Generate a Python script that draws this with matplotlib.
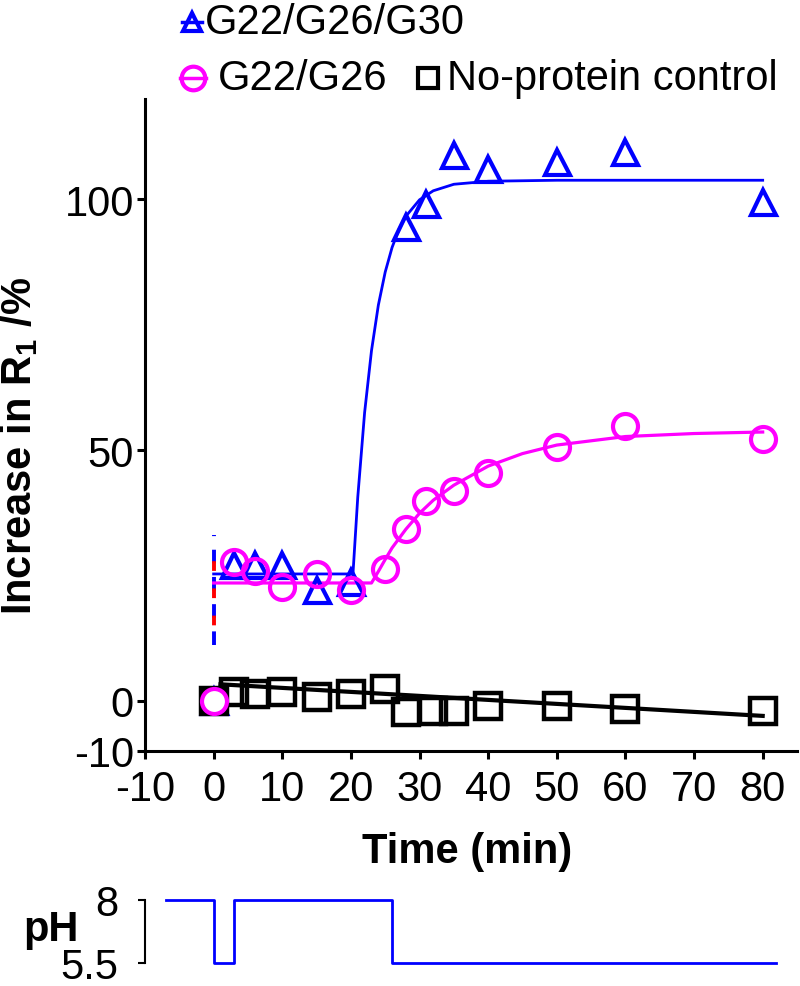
import matplotlib.pyplot as plt
from matplotlib.lines import Line2D

plt.rcParams['font.family'] = ['Liberation Sans', 'DejaVu Sans']
plt.rcParams['mathtext.fontset'] = 'custom'
plt.rcParams['mathtext.rm'] = 'Liberation Sans'
plt.rcParams['mathtext.bf'] = 'Liberation Sans:bold'
plt.rcParams['axes.unicode_minus'] = False

BLUE = '#0000ff'
MAG = '#ff00ff'

# measured points
t_tri = [0, 3, 6, 10, 15, 20, 28, 31, 35, 40, 50, 60, 80]
y_tri = [0, 27.1, 27.1, 27.1, 22.1, 23.7, 94.4, 99, 108.8, 106, 107.4, 109.4, 99.4]

t_circ = [0, 3, 6, 10, 15, 20, 25, 28, 31, 35, 40, 50, 60, 80]
y_circ = [0, 27.7, 25.9, 22.7, 25.3, 22.1, 26.3, 34.3, 39.8, 41.8, 45.4, 50.6, 54.8, 52.2]

t_ctrl = [0, 3, 6, 10, 15, 20, 25, 28, 32, 35, 40, 50, 60, 80]
y_ctrl = [0, 1.8, 1.4, 1.8, 0.8, 1.4, 2.4, -2.2, -2, -2, -1, -1, -1.6, -2]

# fitted curves
fit_t_tri = [0, 20.3, 21, 22, 23, 24, 25, 26, 27, 28, 30, 32, 35, 40, 50, 80]
fit_y_tri = [25.3, 25.3, 40.6, 57.5, 69.8, 78.9, 85.5, 90.4, 94, 96.6, 99.9, 101.7, 103, 103.6, 103.8, 103.8]

fit_t_circ = [0, 23, 24, 25, 26, 28, 30, 32, 35, 40, 45, 50, 60, 70, 80]
fit_y_circ = [23.5, 23.5, 25.8, 28.2, 30.5, 34.2, 37.4, 40.0, 43.0, 46.8, 49.3, 51.0, 52.7, 53.3, 53.6]

fit_t_ctrl = [1, 80]
fit_y_ctrl = [3.3, -3.0]

# pH protocol
ph_t = [-7, 0, 3, 26, 82]
ph_v = [8, 5.5, 8, 5.5, 5.5]

fig = plt.figure(figsize=(8, 9.87), dpi=100)
ax = fig.add_axes([145/800, 235/987, 652/800, 652/987])

# injection marker at t=0
ax.plot([0, 0], [11.2, 33], color=BLUE, lw=2.8, linestyle=(0, (3.5, 3.5)))
ax.plot([0, 0], [12.7, 30], color='red', lw=2.8, linestyle=(4, (2.5, 4.5)))

ax.plot(fit_t_ctrl, fit_y_ctrl, color='black', lw=3)
ax.plot(fit_t_tri, fit_y_tri, color=BLUE, lw=2)
ax.plot(fit_t_circ, fit_y_circ, color=MAG, lw=2.3)

ax.plot(t_ctrl[1:], y_ctrl[1:], 's', ms=19, mfc='none', mec='black', mew=3.2)
ax.plot(t_tri[1:], y_tri[1:], '^', ms=18, mfc='none', mec=BLUE, mew=3)
ax.plot(t_circ[1:], y_circ[1:], 'o', ms=18, mfc='none', mec=MAG, mew=3)
# overlapping points at t=0
ax.plot(t_tri[:1], y_tri[:1], '^', ms=18, mfc='none', mec=BLUE, mew=3)
ax.plot(t_ctrl[:1], y_ctrl[:1], 's', ms=19, mfc='black', mec='black', mew=3.2)
ax.plot(t_circ[:1], y_circ[:1], 'o', ms=18, mfc='white', mec=MAG, mew=3)

ax.set_xlim(-10, 85)
ax.set_ylim(-10, 120)
ax.set_xticks(range(-10, 90, 10))
ax.set_yticks([-10, 0, 50, 100])
for s in ['top', 'right']:
    ax.spines[s].set_visible(False)
for s in ['left', 'bottom']:
    ax.spines[s].set_linewidth(2.2)
ax.tick_params(labelsize=30, width=2.2, length=6)
ax.tick_params(axis='x', pad=7)
ax.tick_params(axis='y', pad=2)

ax.set_xlabel('Time (min)', fontsize=30, fontweight='bold')
ax.xaxis.set_label_coords(0.494, -0.153)
ax.xaxis.label.set_va('center')
ax.set_ylabel(r'Increase in R$_\mathbf{1}$ /%', fontsize=30, fontweight='bold')
ax.yaxis.set_label_coords(-0.193, 0.469)
ax.yaxis.label.set_va('center')

# legend drawn by hand
def legend_item(x, y, marker, color, ms, label, tx, line=True):
    if line:
        fig.add_artist(Line2D([(x - ms*0.75)/800, (x + ms*0.75)/800], [1 - y/987, 1 - y/987],
                              transform=fig.transFigure, color=color, lw=2.5))
    fig.add_artist(Line2D([x/800], [1 - y/987], transform=fig.transFigure, marker=marker,
                          ms=ms, mfc='none', mec=color, mew=3, ls='none'))
    fig.text(tx/800, 1 - y/987, label, fontsize=30, ha='left', va='center')

legend_item(192, 23, '^', BLUE, 13, 'G22/G26/G30', 205)
legend_item(193, 79, 'o', MAG, 17, 'G22/G26', 218)
legend_item(428, 79, 's', 'black', 15, 'No-protein control', 447, line=False)

# pH panel
ax_ph = fig.add_axes([145/800, 23/987, 652/800, 63/987])
ax_ph.step(ph_t, ph_v, where='post', color=BLUE, lw=2, clip_on=False)
ax_ph.set_xlim(-10, 85)
ax_ph.set_ylim(5.5, 8)
ax_ph.set_yticks([5.5, 8])
ax_ph.set_yticklabels(['5.5', '8'])
ax_ph.set_xticks([])
for s in ['top', 'right', 'bottom']:
    ax_ph.spines[s].set_visible(False)
ax_ph.spines['left'].set_linewidth(1.5)
ax_ph.tick_params(axis='y', labelsize=30, width=1.5, length=5, pad=14)
ax_ph.patch.set_visible(False)
fig.text(51/800, 1 - 930/987, 'pH', fontsize=30, fontweight='bold', ha='center', va='center')

fig.savefig('out.png', dpi=100)
